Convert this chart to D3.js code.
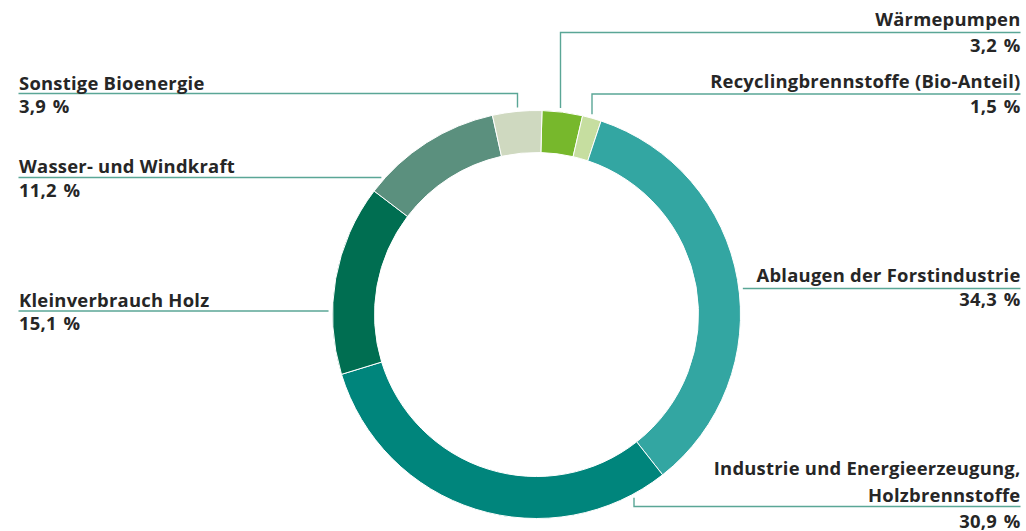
<!DOCTYPE html>
<html>
<head>
<meta charset="utf-8">
<script src="https://cdn.jsdelivr.net/npm/d3@7/dist/d3.min.js"></script>
<style>
  html, body { margin: 0; padding: 0; background: #ffffff; }
  svg { display: block; }
  text { font-family: "Open Sans", "Noto Sans", sans-serif; font-weight: 700; fill: #262626; font-size: 18.4px; letter-spacing: 0.25px; }
</style>
</head>
<body>
<svg id="chart" width="1026" height="531"></svg>
<script>
// Shares of renewable energy sources (percent), clockwise from the top
const categories = [
  "Wärmepumpen",
  "Recyclingbrennstoffe (Bio-Anteil)",
  "Ablaugen der Forstindustrie",
  "Industrie und Energieerzeugung, Holzbrennstoffe",
  "Kleinverbrauch Holz",
  "Wasser- und Windkraft",
  "Sonstige Bioenergie"
];
const shares = [3.2, 1.5, 34.3, 30.9, 15.1, 11.2, 3.9];
const colors = ["#77b82c", "#c6dea0", "#33a6a2", "#00857c", "#006e51", "#5b907e", "#cfd9c0"];

// Label placement: side, y of the leader line, optional elbow x, text offsets
const labelLayout = [
  { side: "right", lineY: 32.5,  elbowX: 560.5, nameGap: 6.5, valueGap: 19 },
  { side: "right", lineY: 94,    elbowX: 592,   nameGap: 6.5, valueGap: 19 },
  { side: "right", lineY: 288.5, elbowX: null,  nameGap: 6.5, valueGap: 17.5 },
  { side: "right", lineY: 506.5, elbowX: 634,   nameGap: 4.5, valueGap: 21 },
  { side: "left",  lineY: 311,   elbowX: null,  nameGap: 4,   valueGap: 19 },
  { side: "left",  lineY: 177.5, elbowX: null,  nameGap: 4.5, valueGap: 19 },
  { side: "left",  lineY: 93.5,  elbowX: 517.5, nameGap: 4,   valueGap: 19 }
];

const svg = d3.select("#chart");
const cx = 536.5, cy = 314.5;
const outerR = 204, innerR = 162;
const startAngle = 0.027;
const leftX = 18.5, rightX = 1020.5;
const gap = 4;
const lineColor = "#5aa696";

const fmt = d3.formatLocale({ decimal: ",", thousands: ".", grouping: [3], currency: ["", " €"] }).format(".1f");

const pie = d3.pie().sort(null).value(d => d).startAngle(startAngle).endAngle(startAngle + 2 * Math.PI);
const arcs = pie(shares);
const arc = d3.arc().innerRadius(innerR).outerRadius(outerR);

const ring = svg.append("g").attr("transform", `translate(${cx},${cy})`);
ring.selectAll("path")
  .data(arcs)
  .join("path")
  .attr("d", arc)
  .attr("fill", (d, i) => colors[i])
  .attr("stroke", "#ffffff")
  .attr("stroke-width", 1);

// Leader lines and labels
const labels = svg.append("g");
arcs.forEach((a, i) => {
  const L = labelLayout[i];
  const above = L.lineY < cy;
  let pts;
  if (L.elbowX != null) {
    const dx = L.elbowX - cx;
    const ringY = cy + (above ? -1 : 1) * Math.sqrt(outerR * outerR - dx * dx);
    const endY = ringY + (above ? -gap : gap);
    const farX = L.side === "right" ? rightX : leftX;
    pts = [[farX, L.lineY], [L.elbowX, L.lineY], [L.elbowX, endY]];
  } else {
    const dy = L.lineY - cy;
    const half = Math.sqrt(outerR * outerR - dy * dy);
    if (L.side === "right") pts = [[cx + half + gap, L.lineY], [rightX, L.lineY]];
    else pts = [[leftX, L.lineY], [cx - half - gap, L.lineY]];
  }
  labels.append("path")
    .attr("d", d3.line()(pts))
    .attr("fill", "none")
    .attr("stroke", lineColor)
    .attr("stroke-width", 1.4);

  const anchor = L.side === "right" ? "end" : "start";
  const tx = L.side === "right" ? rightX : leftX + 0.5;
  const name = categories[i];
  const nameLines = name.includes(", ") ? [name.split(", ")[0] + ",", name.split(", ")[1]] : [name];
  nameLines.forEach((ln, k) => {
    labels.append("text")
      .attr("x", tx)
      .attr("y", L.lineY - L.nameGap - (nameLines.length - 1 - k) * 27)
      .attr("text-anchor", anchor)
      .text(ln);
  });
  labels.append("text")
    .attr("x", tx)
    .attr("y", L.lineY + L.valueGap)
    .attr("text-anchor", anchor)
    .text(fmt(a.data) + "\u2009\u2009%");
});
</script>
</body>
</html>
